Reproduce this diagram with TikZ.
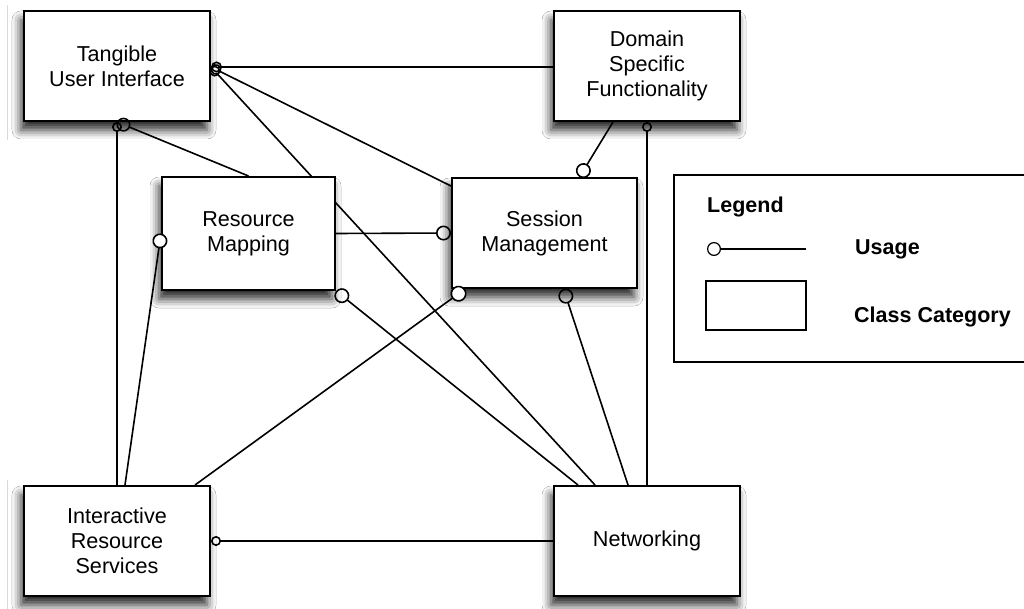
\documentclass[tikz,border=0pt]{standalone}
\usepackage{fontspec}
\setmainfont{Liberation Sans}
\usetikzlibrary{arrows.meta,shadows.blur}
\pgfdeclarelayer{fg}
\pgfdeclarelayer{top}
\pgfsetlayers{main,fg,top}
\begin{document}
\begin{tikzpicture}[x=1pt,y=-1pt,
  cat/.style={draw, line width=2pt, fill=white, minimum width=186pt, minimum height=110pt,
    inner sep=0pt, align=center, font=\fontsize{21.6}{25}\selectfont,
    blur shadow={shadow xshift=-3pt, shadow yshift=-9pt, shadow blur radius=9pt, shadow opacity=85}},
  usage/.style={line width=1.6pt, {Circle[open,length=#1]}-},
  usage/.default=11pt,
  usagew/.style={line width=1.6pt, {Circle[fill=white,length=#1]}-},
  usagew/.default=15pt,
  usedby/.style={line width=1.6pt, -{Circle[open,length=#1]}},
  usedby/.default=15pt,
  legtext/.style={anchor=base west, inner sep=0pt, font=\fontsize{21.5}{25}\selectfont\bfseries}
]
\useasboundingbox (0,0) rectangle (1024,609);
\fill[white] (0,0) rectangle (1024,609);
\draw[gray!30, line width=1pt] (7,5) -- (7,140);
\draw[gray!30, line width=1pt] (7,480) -- (7,609);

\begin{pgfonlayer}{fg}
\node[cat] (tui) at (117,66) {Tangible\\User Interface};
\node[cat] (dsf) at (647,66) {Domain\\Specific\\Functionality};
\node[cat, minimum width=173pt, minimum height=113pt] (rm) at (248.5,233.5) {Resource\\Mapping};
\node[cat, minimum width=185pt] (sm) at (544.5,233) {Session\\Management};
\node[cat] (irs) at (117,541) {Interactive\\Resource\\Services};
\node[cat] (net) at (647,541) {Networking};
\end{pgfonlayer}

% line passing behind Resource Mapping
\draw[usage] ([yshift=-1pt]tui.east) -- ([xshift=-52pt]net.north);

\begin{pgfonlayer}{top}
\draw[usage] ([yshift=-1pt]tui.east) -- ([yshift=-1pt]dsf.west);
\draw[usage] ([yshift=-1pt]tui.east) -- ([yshift=47pt]sm.west);
\draw[usage=10pt] (tui.south) -- (irs.north);
\draw[usage=14pt] (tui.south) -- (rm.north);
\draw[usagew] (rm.west) -- ([xshift=8pt]irs.north);
\draw[usedby] (rm.east) -- (sm.west);
\draw[usage=15pt] (rm.south east) -- ([xshift=-69pt]net.north);
\draw[usagew=16pt] ([xshift=14pt]sm.south west) -- ([xshift=78pt]irs.north);
\draw[usage=15pt] ([xshift=19pt]sm.south) -- ([xshift=-19pt]net.north);
\draw[usage=15pt] ([xshift=35pt]sm.north) -- ([xshift=-34pt]dsf.south);
\draw[usage=10pt] (dsf.south) -- (net.north);
\draw[usage=10pt] (irs.east) -- (net.west);
\end{pgfonlayer}

% legend
\draw[line width=1.5pt] (1030,175) -- (674,175) -- (674,362) -- (1030,362);
\node[legtext] (legtitle) at (707,213) {Legend};
\coordinate (ua) at (707,249);
\coordinate (ub) at (806,249);
\draw[usage=14pt, line width=1.2pt] (ua) -- (ub);
\node[draw, line width=1.5pt, minimum width=100pt, minimum height=49pt, inner sep=0pt] (legbox) at (756,305.5) {};
\node[legtext] (legusage) at (855,255) {Usage};
\node[legtext] (legcat) at (854,322) {Class Category};
\end{tikzpicture}
\end{document}
